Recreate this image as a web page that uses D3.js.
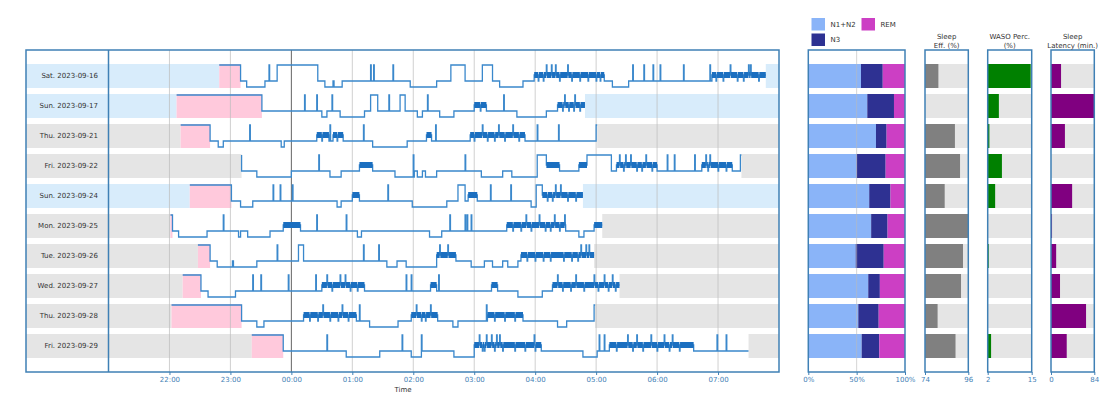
<!DOCTYPE html>
<html>
<head>
<meta charset="utf-8">
<script src="https://cdn.jsdelivr.net/npm/d3@7"></script>
<style>
  body { margin: 0; background: #fff; font-family: "DejaVu Sans", sans-serif; }
</style>
</head>
<body>
<div id="chart"></div>
<script>
// Nights, one row each
const nights = ["Sat. 2023-09-16", "Sun. 2023-09-17", "Thu. 2023-09-21", "Fri. 2023-09-22", "Sun. 2023-09-24",
                "Mon. 2023-09-25", "Tue. 2023-09-26", "Wed. 2023-09-27", "Thu. 2023-09-28", "Fri. 2023-09-29"];
const inBed  = ["22:49", "22:07", "22:11", "23:11", "22:20", "22:01", "22:28", "22:13", "22:02", "23:21"];
const outBed = ["07:47", "04:49", "05:01", "07:23", "04:47", "05:06", "04:58", "05:23", "04:59", "07:30"];

// Hypnograms: "HH:MM" + stage (W wake, R rem, L N1+N2, D N3), each entry is a stage change
const hyp = [
  "22:49W 23:10L 23:16D 23:34L 23:46W 00:26L 00:33D 00:41L 00:42D 00:50L 01:57D 02:23L 02:37W 02:51L 03:08W 03:18L 03:25D 03:48L 03:59R 05:08L 05:16D 05:32L 06:54R",
  "22:07W 23:31L 00:30D 00:35L 00:48D 01:12L 01:18W 01:25L 01:47W 01:52L 02:04D 02:09L 02:26D 02:40L 03:00R 03:12L 03:42D 04:11L 04:22R",
  "22:11W 22:40L 22:48D 22:53L 23:50D 23:53L 00:25R 00:37L 00:41R 00:51L 01:20D 01:54L 02:13R 02:18L 02:56R 03:50L 05:00W",
  "23:11W 23:11L 23:26D 00:00L 00:38D 00:49L 01:07R 01:20L 01:42D 02:01L 02:04D 02:09L 02:12D 02:23L 03:07D 03:28L 03:37D 04:02W 04:11R 04:24L 04:43R 04:51W 05:15L 05:20R 06:00L 06:44R 07:14L 07:22W",
  "22:20W 23:01L 23:10D 23:22L 00:45D 00:49L 01:00R 01:07L 01:59D 02:33L 02:44W 02:51L 02:54R 03:03L 03:56D 04:01W 04:07R",
  "22:01W 22:03L 22:09D 22:37L 23:08D 23:10L 23:17D 23:39L 23:52R 00:09L 01:05D 01:09L 02:16D 02:28L 03:32R 04:30L 04:43D 04:48L 04:58R",
  "22:28W 22:40L 22:47D 23:02L 23:03D 23:26L 00:07W 00:12L 01:34D 01:44L 01:53D 02:23R 02:42L 02:57D 03:10L 03:18D 03:28L 03:33D 03:43L 03:46R",
  "22:13W 22:31L 22:38D 23:05L 00:30R 01:12L 02:17R 02:23L 03:17R 03:23L 03:43D 04:07L 04:17R",
  "22:02W 23:11L 23:26D 23:33L 00:12R 01:04L 01:17D 01:45L 01:58R 02:24L 02:39D 02:44L 03:13R 03:48L 04:22D 04:31L 04:58W",
  "23:21W 23:52L 00:54D 01:27L 01:58D 02:08L 02:40D 03:00R 04:06L 04:47D 05:01L 05:13R 06:36L"
];
// Brief awakenings (short spikes up to wake)
const wakeBlips = [
  "23:38 01:18 01:21 01:40 04:11 04:16 04:20 04:32 05:36 05:47 05:56 06:03 06:26 06:52 07:12 07:30 07:32",
  "00:13 00:25 00:40 01:36 02:14 03:29 04:29 04:39",
  "23:19 00:38 01:11 02:22 03:08 03:24 03:38 04:02 04:23",
  "00:27 02:00 02:51 05:23 05:29 05:34 05:49 06:10 06:17 06:37 06:48 06:52",
  "23:42 23:49 00:01 01:35 03:16 03:36 04:20 04:25",
  "22:53 00:25 00:54 02:36 02:51 02:53 02:57 03:51 04:04 04:19 04:29",
  "23:46 01:11 01:26 02:26 02:34 04:45 04:50 04:53",
  "23:22 23:30 23:57 00:24 00:35 00:48 00:53 01:53 01:58 02:25 04:22 04:40 04:58 05:08 05:16",
  "00:31 00:50 01:07 02:03 02:17 03:12",
  "00:35 01:49 02:08 03:05 03:12 03:17 03:22 03:25 03:59 05:03 05:08 05:31 05:40 05:54 06:07 06:15 06:59 07:08"
];
// Brief N1/N2 epochs inside REM (small notches under the REM bar)
const lightBlips = [
  "04:03 04:08 04:24 04:36 04:44 04:52 05:00 05:04 06:58 07:05 07:19 07:25 07:40",
  "03:06 04:27 04:33 04:38 04:44",
  "00:30 00:45 03:00 03:13 03:20 03:30 03:44",
  "05:27 05:40 05:45 05:55 06:50 07:00 07:08",
  "04:12 04:17 04:32 04:40",
  "03:38 03:46 03:56 04:10 04:15 04:24",
  "03:52 04:00 04:08 04:15 04:28 04:36 04:42",
  "00:40 00:58 01:05 04:27 04:35 04:48 05:02 05:12 05:19",
  "00:18 00:26 00:38 00:46 00:56 02:08 02:12 03:20 03:30 03:40",
  "03:08 03:10 03:20 03:28 03:40 03:50 04:00 05:20 05:36 05:46 06:00 06:12 06:22"
];

// Stage composition (% of sleep)
const pctN12 = [54.5, 61, 70, 50, 63, 65, 49, 62, 51.7, 55.2];
const pctN3  = [22.5, 27.6, 11, 30, 22, 17, 29, 12, 21.1, 18.2];
const pctREM = [23, 11.4, 19, 20, 15, 18, 22, 26, 27.2, 26.6];

const sleepEff   = [80.8, 74, 89.2, 91.8, 84, 96, 93.3, 92.3, 80.4, 89.5];
const wasoPerc   = [14.7, 5.3, 2.5, 6.2, 4.2, 2, 2.3, 2, 2, 3.0];
const latencyMin = [19.5, 84, 27, 0, 41, 2, 10, 17.5, 68, 30.5];

const hourTicks = ["22:00", "23:00", "00:00", "01:00", "02:00", "03:00", "04:00", "05:00", "06:00", "07:00"];

// ---------------------------------------------------------------
const W = 1117, H = 397;
const frameTop = 50, frameBottom = 372;
const rowTop = i => 64 + 30 * i;
const rowH = 24;
const frameColor = "#3f80b5";
const tickColor = "#3f80b5";

const svg = d3.select("#chart").append("svg")
    .attr("width", W)
    .attr("height", H)
    .style("font-family", "'DejaVu Sans', sans-serif");

// minutes after 21:00
const toMin = s => {
    const [h, m] = s.split(":").map(Number);
    let v = h * 60 + m;
    if (h < 12) v += 1440;
    return v - 21 * 60;
};

const x = d3.scaleLinear().domain([0, 660]).range([108.5, 779]);
const level = { W: 1, R: 11, L: 17, D: 23 };

// row backgrounds
const rows = svg.append("g");
nights.forEach((name, i) => {
    const weekend = name.startsWith("Sat") || name.startsWith("Sun");
    rows.append("rect")
        .attr("x", 26).attr("y", rowTop(i))
        .attr("width", 779 - 26).attr("height", rowH)
        .attr("fill", weekend ? "#d8ecfb" : "#e5e5e5");
    rows.append("rect")
        .attr("x", x(toMin(inBed[i]))).attr("y", rowTop(i))
        .attr("width", x(toMin(outBed[i])) - x(toMin(inBed[i]))).attr("height", rowH)
        .attr("fill", "#fff");
    const onset = toMin(hyp[i].split(" ").find(tok => tok.slice(5) !== "W").slice(0, 5));
    rows.append("rect")
        .attr("x", x(toMin(inBed[i]))).attr("y", rowTop(i))
        .attr("width", x(onset) - x(toMin(inBed[i]))).attr("height", rowH)
        .attr("fill", "#ffc9dc");
    rows.append("text")
        .attr("x", 98).attr("y", rowTop(i) + rowH / 2)
        .attr("dy", "0.35em")
        .attr("text-anchor", "end")
        .attr("font-size", "7px")
        .attr("fill", "#333")
        .text(name);
});

// hour gridlines
const grid = svg.append("g");
hourTicks.forEach(h => {
    const t = toMin(h);
    grid.append("line")
        .attr("x1", x(t)).attr("x2", x(t))
        .attr("y1", frameTop).attr("y2", frameBottom)
        .attr("stroke", h === "00:00" ? "#555" : "#bdbdbd")
        .attr("stroke-width", 1)
        .attr("opacity", h === "00:00" ? 0.9 : 0.7);
});

// hypnograms
const hypG = svg.append("g");
hyp.forEach((str, i) => {
    const pts = str.split(" ").map(tok => ({ t: toMin(tok.slice(0, 5)), s: tok.slice(5) }));
    const stageAt = t => { let s = pts[0].s; pts.forEach(p => { if (p.t <= t) s = p.s; }); return s; };
    const extra = [];
    const addBlips = (list, stage) => list.split(" ").filter(Boolean).forEach(b => {
        const t = toMin(b);
        extra.push({ t: t, s: stage }, { t: t + 0.6, s: stageAt(t + 0.6) });
    });
    addBlips(wakeBlips[i], "W");
    addBlips(lightBlips[i], "L");
    const all = pts.concat(extra).sort((a, b) => a.t - b.t);
    const end = toMin(outBed[i]);
    const y = s => rowTop(i) + level[s];

    let d = `M${x(all[0].t)},${y(all[0].s)}`;
    for (let k = 1; k < all.length; k++) {
        d += `H${x(all[k].t)}V${y(all[k].s)}`;
    }
    d += `H${x(end)}`;
    hypG.append("path")
        .attr("d", d)
        .attr("fill", "none")
        .attr("stroke", "#3a88cc")
        .attr("stroke-width", 1.3);

    all.forEach((p, k) => {
        if (p.s !== "R") return;
        const t2 = k + 1 < all.length ? all[k + 1].t : end;
        hypG.append("line")
            .attr("x1", x(p.t)).attr("x2", x(t2))
            .attr("y1", y("R")).attr("y2", y("R"))
            .attr("stroke", "#1b6fc0")
            .attr("stroke-width", 6);
    });
});

// main frame
svg.append("rect")
    .attr("x", 26).attr("y", frameTop)
    .attr("width", 779 - 26).attr("height", frameBottom - frameTop)
    .attr("fill", "none").attr("stroke", frameColor).attr("stroke-width", 1.5);
svg.append("line")
    .attr("x1", 108.5).attr("x2", 108.5).attr("y1", frameTop).attr("y2", frameBottom)
    .attr("stroke", frameColor).attr("stroke-width", 1.5);

// time axis
const timeAxis = svg.append("g")
    .attr("transform", `translate(0,${frameBottom})`)
    .call(d3.axisBottom(x).tickValues(hourTicks.map(toMin)).tickFormat((d, i) => hourTicks[i]).tickSize(3).tickPadding(2));
timeAxis.select(".domain").remove();
timeAxis.selectAll("line").attr("stroke", tickColor);
timeAxis.selectAll("text").attr("fill", tickColor).attr("font-size", "7px").attr("font-family", "'DejaVu Sans', sans-serif");
svg.append("text")
    .attr("x", 403).attr("y", 392)
    .attr("text-anchor", "middle").attr("font-size", "7px").attr("fill", "#333")
    .text("Time");

// stage composition panel
const xs = d3.scaleLinear().domain([0, 100]).range([808.3, 905]);
const stageCols = { n12: "#8ab4f8", n3: "#2e3192", rem: "#cc3fc4" };
const comp = svg.append("g");
nights.forEach((n, i) => {
    const a = pctN12[i], b = pctN3[i], c = pctREM[i];
    const sum = a + b + c;
    const parts = [[0, a / sum * 100, stageCols.n12], [a / sum * 100, (a + b) / sum * 100, stageCols.n3], [(a + b) / sum * 100, 100, stageCols.rem]];
    parts.forEach(p => {
        comp.append("rect")
            .attr("x", xs(p[0])).attr("y", rowTop(i))
            .attr("width", xs(p[1]) - xs(p[0])).attr("height", rowH)
            .attr("fill", p[2]);
    });
});
comp.append("line")
    .attr("x1", xs(50)).attr("x2", xs(50)).attr("y1", frameTop).attr("y2", frameBottom)
    .attr("stroke", "#bbb").attr("stroke-width", 1).attr("opacity", 0.6);
comp.append("rect")
    .attr("x", xs(0)).attr("y", frameTop).attr("width", xs(100) - xs(0)).attr("height", frameBottom - frameTop)
    .attr("fill", "none").attr("stroke", frameColor).attr("stroke-width", 1.5);
const compAxis = comp.append("g")
    .attr("transform", `translate(0,${frameBottom})`)
    .call(d3.axisBottom(xs).tickValues([0, 50, 100]).tickFormat(d => d + "%").tickSize(3).tickPadding(2));
compAxis.select(".domain").remove();
compAxis.selectAll("line").attr("stroke", tickColor);
compAxis.selectAll("text").attr("fill", tickColor).attr("font-size", "7px").attr("font-family", "'DejaVu Sans', sans-serif");

// legend
const legendItems = [
    { label: "N1+N2", color: stageCols.n12, x: 811.5, y: 18 },
    { label: "REM", color: stageCols.rem, x: 861.5, y: 18 },
    { label: "N3", color: stageCols.n3, x: 811.5, y: 33.5 }
];
legendItems.forEach(l => {
    svg.append("rect").attr("x", l.x).attr("y", l.y).attr("width", 13.5).attr("height", 12.5).attr("fill", l.color);
    svg.append("text").attr("x", l.x + 19).attr("y", l.y + 6.5).attr("dy", "0.35em")
        .attr("font-size", "7px").attr("fill", "#333").text(l.label);
});

// single-metric panels
const metricPanels = [
    { values: sleepEff, domain: [74, 96], range: [925, 968.3], color: "#808080", title: ["Sleep", "Eff. (%)"] },
    { values: wasoPerc, domain: [2, 15], range: [987.7, 1031.7], color: "#008000", title: ["WASO Perc.", "(%)"] },
    { values: latencyMin, domain: [0, 84], range: [1051, 1094.3], color: "#800080", title: ["Sleep", "Latency (min.)"] }
];
metricPanels.forEach(p => {
    const sc = d3.scaleLinear().domain(p.domain).range(p.range).clamp(true);
    const g = svg.append("g");
    p.values.forEach((v, i) => {
        g.append("rect")
            .attr("x", p.range[0]).attr("y", rowTop(i))
            .attr("width", p.range[1] - p.range[0]).attr("height", rowH)
            .attr("fill", "#e5e5e5");
        g.append("rect")
            .attr("x", p.range[0]).attr("y", rowTop(i))
            .attr("width", sc(v) - p.range[0]).attr("height", rowH)
            .attr("fill", p.color);
    });
    g.append("rect")
        .attr("x", p.range[0]).attr("y", frameTop)
        .attr("width", p.range[1] - p.range[0]).attr("height", frameBottom - frameTop)
        .attr("fill", "none").attr("stroke", frameColor).attr("stroke-width", 1.5);
    const ax = g.append("g")
        .attr("transform", `translate(0,${frameBottom})`)
        .call(d3.axisBottom(sc).tickValues(p.domain).tickFormat(d3.format("d")).tickSize(3).tickPadding(2));
    ax.select(".domain").remove();
    ax.selectAll("line").attr("stroke", tickColor);
    ax.selectAll("text").attr("fill", tickColor).attr("font-size", "7px").attr("font-family", "'DejaVu Sans', sans-serif");
    const cx = (p.range[0] + p.range[1]) / 2;
    p.title.forEach((t, k) => {
        g.append("text")
            .attr("x", cx).attr("y", 39 + k * 8.5)
            .attr("text-anchor", "middle").attr("font-size", "7px").attr("fill", "#333")
            .text(t);
    });
});
</script>
</body>
</html>
